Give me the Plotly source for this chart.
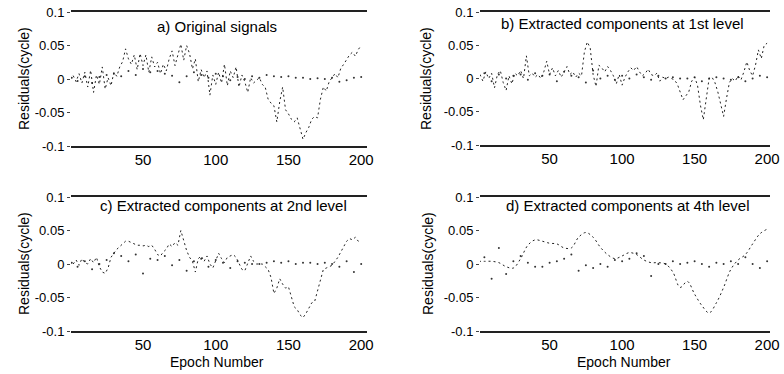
import plotly.graph_objects as go

# ---------------- data ----------------
epochs_2 = list(range(2, 201, 2))            # 100 epochs
epochs_5 = [1] + list(range(5, 201, 5))      # 41 epochs

x_tick_vals = [50, 100, 150, 200]
x_tick_text = ["50", "100", "150", "200"]
y_tick_vals = [-0.1, -0.05, 0, 0.05, 0.1]
y_tick_text = ["-0.1", "-0.05", "0", "0.05", "0.1"]

panel_titles = ["a) Original signals",
                "b) Extracted components at 1st level",
                "c) Extracted components at 2nd level",
                "d) Extracted components at 4th level"]

a_main = [0.005, -0.004, 0.008, -0.006, 0.010, -0.012, 0.013, -0.020, 0.006, -0.008,
          0.018, -0.015, 0.002, -0.010, 0.010, 0.004, 0.018, 0.026, 0.045, 0.030,
          0.022, 0.036, 0.014, 0.038, 0.020, 0.036, 0.010, 0.033, 0.018, 0.025,
          0.008, 0.022, 0.012, 0.030, 0.042, 0.020, 0.036, 0.052, 0.028, 0.050,
          0.038, 0.015, 0.030, -0.004, 0.014, 0.002, 0.012, -0.024, 0.006, -0.008,
          0.010, -0.006, 0.022, -0.010, 0.012, 0.002, 0.018, -0.012, 0.006, -0.004,
          -0.020, 0.002, -0.006, -0.002, 0.002, -0.008, -0.012, -0.030, -0.036, -0.040,
          -0.064, -0.034, -0.012, -0.046, -0.052, -0.060, -0.064, -0.058, -0.074, -0.090,
          -0.080, -0.072, -0.060, -0.056, -0.058, -0.030, -0.012, -0.018, -0.004, 0.002,
          0.008, 0.002, 0.016, 0.022, 0.030, 0.036, 0.040, 0.034, 0.044, 0.050]

b_main = [0.006, -0.004, 0.010, 0.000, 0.008, -0.014, 0.006, 0.012, -0.006, -0.018,
          0.004, -0.008, 0.008, 0.004, 0.012, 0.000, 0.034, 0.004, 0.008, 0.002,
          0.006, 0.000, 0.010, 0.026, 0.006, 0.016, 0.004, 0.012, 0.002, 0.010,
          0.018, 0.006, 0.010, 0.002, 0.008, 0.004, 0.040, 0.055, 0.046, 0.006,
          -0.012, 0.020, 0.016, 0.010, 0.018, 0.012, 0.004, -0.008, 0.006, -0.010,
          0.002, 0.010, 0.016, 0.012, 0.018, 0.010, 0.004, 0.008, 0.014, 0.006,
          0.004, 0.008, -0.004, 0.002, 0.000, 0.002, 0.000, -0.002, -0.008, -0.020,
          -0.032, -0.026, -0.020, -0.004, 0.002, -0.010, -0.040, -0.062, -0.030, 0.000,
          0.002, -0.006, -0.020, -0.040, -0.057, -0.030, -0.006, 0.000, -0.004, 0.004,
          -0.002, 0.010, 0.025, 0.012, 0.004, 0.020, 0.043, 0.030, 0.050, 0.053]

c_main = [0.000, 0.006, -0.002, 0.008, 0.002, 0.000, 0.008, 0.002, 0.010, -0.004,
          -0.012, -0.014, -0.006, 0.010, 0.016, 0.022, 0.026, 0.030, 0.034, 0.034,
          0.032, 0.030, 0.028, 0.028, 0.027, 0.028, 0.026, 0.028, 0.022, 0.014,
          0.012, 0.018, 0.022, 0.030, 0.026, 0.032, 0.028, 0.050, 0.036, 0.020,
          0.010, 0.004, -0.012, 0.008, 0.012, 0.004, 0.012, 0.000, -0.006, 0.004,
          0.016, 0.008, 0.002, 0.010, 0.012, 0.014, 0.010, 0.002, -0.008, -0.010,
          0.000, 0.012, 0.004, 0.000, 0.000, 0.000, -0.004, -0.008, -0.020, -0.044,
          -0.036, -0.022, -0.030, -0.036, -0.034, -0.048, -0.064, -0.068, -0.076, -0.080,
          -0.074, -0.066, -0.058, -0.056, -0.040, -0.020, -0.008, -0.006, -0.004, -0.002,
          0.004, 0.010, 0.018, 0.026, 0.034, 0.038, 0.036, 0.040, 0.034, 0.032]

d_main = [0.004, 0.004, 0.004, 0.002, -0.004, -0.006, 0.008, 0.028, 0.036, 0.034,
          0.031, 0.030, 0.024, 0.024, 0.040, 0.047, 0.040, 0.025, 0.014, 0.008,
          0.012, 0.017, 0.014, 0.006, 0.002, 0.002, 0.000, -0.012, -0.035, -0.026,
          -0.045, -0.062, -0.073, -0.058, -0.035, -0.008, 0.006, 0.014, 0.030, 0.045,
          0.052]

a_zero = [0.002, -0.003, 0.004, -0.006, 0.003, 0.006, 0.008, 0.004, 0.012, 0.006,
          0.015, 0.010, 0.012, 0.008, 0.005, -0.005, 0.004, 0.010, 0.006, 0.002,
          0.008, 0.004, -0.002, 0.003, 0.000, 0.004, 0.002, 0.006, 0.004, 0.003,
          0.004, 0.002, 0.002, 0.000, 0.001, 0.000, 0.002, -0.004, -0.002, 0.002,
          0.003]

b_zero = [0.002, 0.008, -0.004, 0.006, 0.000, 0.004, 0.006, -0.002, 0.008, 0.004,
          0.006, -0.004, 0.010, 0.004, 0.002, -0.006, 0.012, 0.000, 0.004, -0.002,
          0.004, 0.000, 0.006, 0.002, -0.002, 0.004, 0.000, 0.002, 0.000, 0.000,
          0.002, -0.004, 0.000, 0.002, 0.000, -0.002, 0.002, -0.004, 0.000, 0.004,
          0.002]

c_zero = [0.002, -0.004, 0.004, -0.008, 0.000, 0.006, 0.016, 0.012, 0.004, 0.014,
          -0.014, 0.008, 0.006, 0.012, -0.002, 0.006, -0.010, 0.004, 0.008, -0.004,
          0.006, 0.002, -0.006, 0.004, 0.002, 0.000, 0.000, 0.002, 0.004, 0.002,
          0.004, 0.000, 0.002, 0.002, 0.000, 0.002, 0.000, -0.004, 0.004, -0.012,
          0.000]

d_zero = [0.014, 0.010, -0.022, 0.024, -0.015, 0.004, 0.012, 0.002, -0.004, -0.004,
          0.002, 0.004, 0.008, 0.014, -0.010, -0.002, -0.006, 0.000, -0.004, 0.006,
          0.004, 0.008, 0.016, 0.012, -0.018, 0.000, 0.000, 0.004, 0.000, 0.002,
          0.004, 0.000, -0.004, 0.002, 0.000, 0.004, 0.000, 0.010, 0.000, -0.006,
          0.004]

# ---------------- figure ----------------
FONT = "Arial, Liberation Sans, sans-serif"
W, H = 784, 374

def px_x(v):
    return v / W

def px_y(v):
    return 1 - v / H

fig = go.Figure()

mains = [(epochs_2, a_main, "linear"), (epochs_2, b_main, "linear"),
         (epochs_2, c_main, "linear"), (epochs_5, d_main, "spline")]
zeros = [a_zero, b_zero, c_zero, d_zero]
axis_ids = [("x", "y"), ("x2", "y2"), ("x3", "y3"), ("x4", "y4")]

for (xs, ys, shape), zs, (xa, ya) in zip(mains, zeros, axis_ids):
    fig.add_trace(go.Scatter(x=epochs_5, y=zs, mode="markers",
                             marker=dict(color="#333", size=2),
                             xaxis=xa, yaxis=ya, showlegend=False, hoverinfo="skip"))
    fig.add_trace(go.Scatter(x=xs, y=ys, mode="lines",
                             line=dict(color="#222", width=1, dash="2px,3px", shape=shape),
                             xaxis=xa, yaxis=ya, showlegend=False, hoverinfo="skip"))

# panel rectangles in pixels: (left, right, top, bottom)
rects = [(71, 367, 12, 146), (480, 770, 12, 145), (71, 367, 197, 331), (480, 770, 197, 331)]
x_ranges = [[0.5, 204], [2, 202], [0.5, 204], [2, 202]]

layout = dict(width=W, height=H, margin=dict(l=0, r=0, t=0, b=0, autoexpand=False),
              template="none",
              paper_bgcolor="white", plot_bgcolor="white", showlegend=False,
              font=dict(family=FONT, color="black"))
for i, (l, r, t, b) in enumerate(rects):
    n = "" if i == 0 else str(i + 1)
    layout["xaxis" + n] = dict(domain=[px_x(l), px_x(r)], range=x_ranges[i], anchor="y" + n,
                               automargin=False, ticklabeloverflow="allow",
                               tickvals=x_tick_vals, ticktext=x_tick_text, ticks="",
                               ticklabelstandoff=-1,
                               showline=True, mirror=True, linecolor="#222", linewidth=1.5,
                               showgrid=False, zeroline=False,
                               tickfont=dict(family=FONT, size=15, color="black"))
    layout["yaxis" + n] = dict(domain=[px_y(b), px_y(t)], range=[-0.1, 0.1], anchor="x" + n,
                               automargin=False, ticklabeloverflow="allow",
                               tickvals=y_tick_vals, ticktext=y_tick_text,
                               ticks="outside", ticklen=3, tickcolor="#444",
                               showline=False, showgrid=False, zeroline=False,
                               tickfont=dict(family=FONT, size=13, color="black"))
fig.update_layout(**layout)

# panel titles (in data coordinates)
title_pos = [(101, 0.078), (100, 0.082), (105, 0.087), (104, 0.088)]
for i, (tx, ty) in enumerate(title_pos):
    n = "" if i == 0 else str(i + 1)
    fig.add_annotation(x=tx, y=ty, xref="x" + n, yref="y" + n, text=panel_titles[i],
                       xanchor="center", yanchor="middle",
                       showarrow=False, font=dict(family=FONT, size=15, color="black"))

# y-axis titles
for px, py in [(24, 79), (426, 79), (24, 264), (428, 264)]:
    fig.add_annotation(x=px_x(px), y=px_y(py), xref="paper", yref="paper",
                       xanchor="center", yanchor="middle",
                       text="Residuals(cycle)", textangle=-90, showarrow=False,
                       font=dict(family=FONT, size=14, color="black"))
# x-axis titles
for px in [217, 624]:
    fig.add_annotation(x=px_x(px), y=px_y(362), xref="paper", yref="paper",
                       xanchor="center", yanchor="middle",
                       text="Epoch Number", showarrow=False,
                       font=dict(family=FONT, size=14, color="black"))

# remove the default 8px page margin so the figure sits at the window's top-left corner
fig.write_html("out.html",
               config={"displayModeBar": False},
               post_script="document.body.style.margin='0';document.body.style.overflow='hidden';")
